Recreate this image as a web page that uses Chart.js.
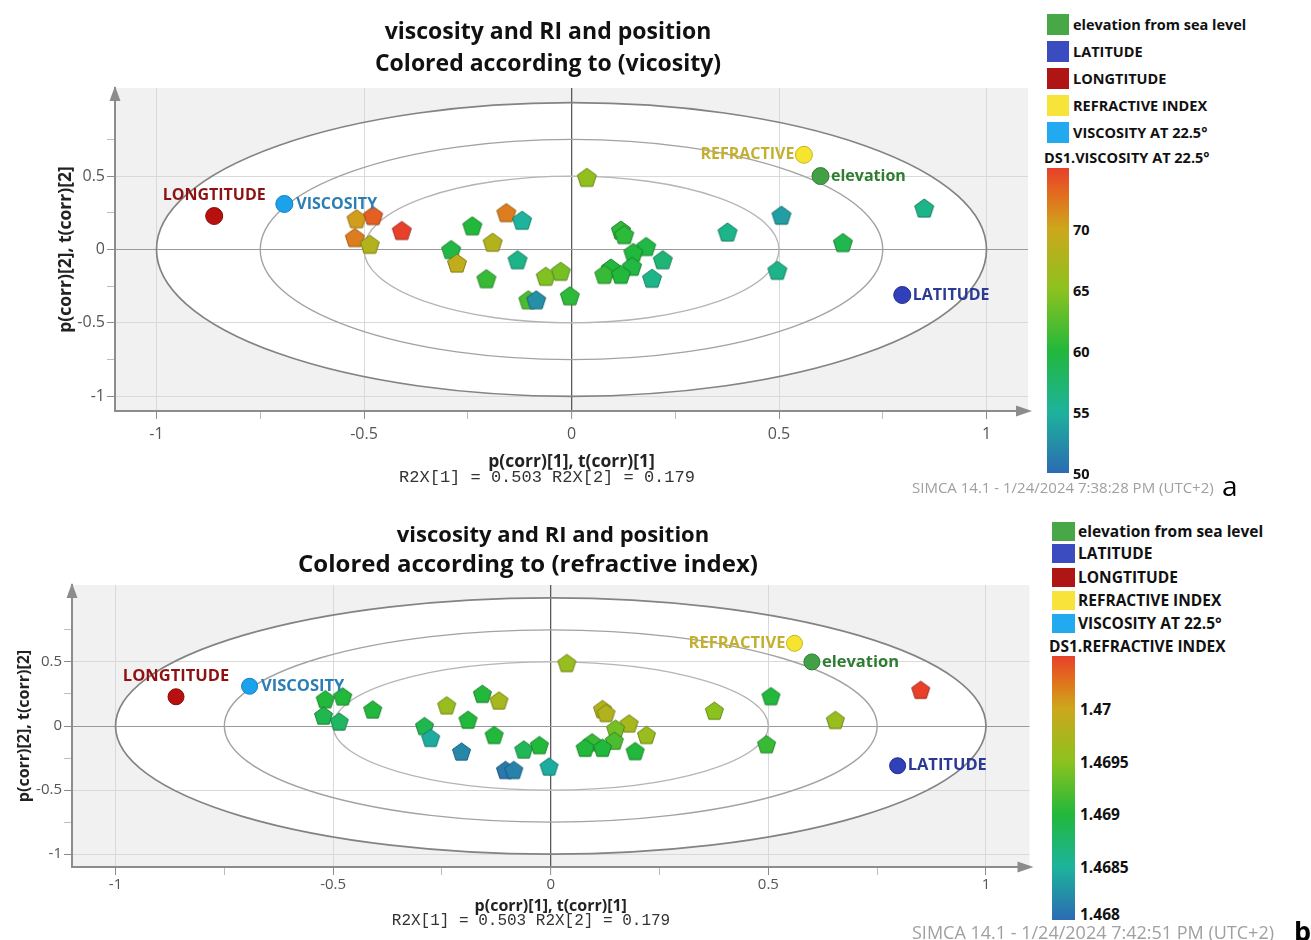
<!DOCTYPE html>
<html><head><meta charset="utf-8">
<script src="https://cdn.jsdelivr.net/npm/chart.js@4.4.1/dist/chart.umd.min.js"></script>
<style>
html,body{margin:0;padding:0;background:#fff;}
body{width:1311px;height:940px;position:relative;overflow:hidden;font-family:"Open Sans",sans-serif;}
canvas{position:absolute;left:0;}
.abs{position:absolute;white-space:nowrap;line-height:1.2;}
</style></head><body>
<canvas id="c1" style="top:0"></canvas>
<canvas id="c2" style="top:500px"></canvas>
<script>
// ---------------- DATA ----------------
const obsX = [-0.518,-0.478,-0.409,-0.522,-0.486,-0.239,-0.157,-0.119,-0.19,-0.29,-0.276,-0.13,-0.205,-0.062,-0.026,-0.104,-0.085,-0.004,0.037,0.119,0.127,0.18,0.149,0.22,0.146,0.095,0.079,0.119,0.194,0.376,0.506,0.496,0.654,0.85];
const obsY = [0.21,0.232,0.13,0.082,0.036,0.162,0.252,0.2,0.05,0.0,-0.092,-0.069,-0.198,-0.182,-0.148,-0.342,-0.342,-0.315,0.492,0.133,0.102,0.021,-0.02,-0.069,-0.114,-0.126,-0.169,-0.169,-0.195,0.12,0.234,-0.141,0.048,0.283];
const viscosity = [70.5,73.5,75,72,68,60,72,55,68,59.5,69,56,61,64.5,64,62,52.5,60.5,65.5,60.5,60.5,59.5,60,57,59.5,60,61,60,56,56,53.5,56,59,56];
const refractiveIndex = [1.4690,1.4690,1.4690,1.4689,1.4688,1.4696,1.4690,1.4697,1.4690,1.4689,1.46845,1.4690,1.4682,1.46885,1.4690,1.4681,1.46815,1.46845,1.4696,1.4698,1.46978,1.4697,1.4694,1.4696,1.4692,1.4691,1.4690,1.4690,1.4690,1.4695,1.4690,1.4691,1.4696,1.4705];
const varNames = ['LONGTITUDE','VISCOSITY','REFRACTIVE','elevation','LATITUDE'];
const varX = [-0.861,-0.692,0.56,0.60,0.797];
const varY = [0.228,0.31,0.645,0.50,-0.31];
const xMajorTicks = [-1,-0.5,0,0.5,1];
const xMinorTicks = [-0.75,-0.25,0.25,0.75];
const yMajorTicks = [-1,-0.5,0,0.5];
const yMinorTicks = [-0.75,-0.25,0.25,0.75];
const ellipseRadii = [0.5,0.75,1];
const legendNames = ['elevation from sea level','LATITUDE','LONGTITUDE','REFRACTIVE INDEX','VISCOSITY AT 22.5°'];
const viscTicks = [50,55,60,65,70];
const viscRange = [50,75];
const riTicks = [1.468,1.4685,1.469,1.4695,1.47];
const riTickLabels = ['1.468','1.4685','1.469','1.4695','1.47'];
const riRange = [1.468,1.4705];

// ---------------- STYLE ----------------
const rampStops = [[0,'#2c6bb2'],[0.2,'#1db39c'],[0.4,'#22b83c'],[0.6,'#8cc21e'],[0.8,'#cca81c'],[0.9,'#e0741e'],[1,'#e8402a']];
const varFill = ['#b80f0f','#1aa3ec','#f5e52e','#44a044','#3040b8'];
const varBorder = ['#8a0a0a','#1280c0','#c8b420','#2e7d32','#202c90'];
const varText = ['#8e1212','#2a7db5','#c4b030','#2e7d32','#2b3a95'];
const varPlace = ['above','right','left','right','right'];
const legendColors = ['#48a848','#3b4cc0','#b01515','#f7e33a','#22aaf0'];
const ellipseStyles = [{c:'#b4b4b4',w:1.3},{c:'#a2a2a2',w:1.4},{c:'#838383',w:1.7}];

Chart.defaults.font.family = '"Open Sans", sans-serif';

function hexToRgb(h){h=h.replace('#','');return [0,2,4].map(i=>parseInt(h.substr(i,2),16));}
function rampColor(t){
  t=Math.max(0,Math.min(1,t));
  for(let i=1;i<rampStops.length;i++){
    if(t<=rampStops[i][0]){
      const [t0,c0]=rampStops[i-1],[t1,c1]=rampStops[i];
      const f=(t-t0)/(t1-t0), a=hexToRgb(c0), b=hexToRgb(c1);
      return a.map((v,k)=>Math.round(v+(b[k]-v)*f));
    }
  }
  return hexToRgb(rampStops[rampStops.length-1][1]);
}
function pentagon(rgb, r){
  const s=Math.ceil(2*r+4), c=document.createElement('canvas'); c.width=s; c.height=s;
  const g=c.getContext('2d'), cx=s/2, cy=s/2+r*0.1;
  g.beginPath();
  for(let i=0;i<5;i++){const a=-Math.PI/2+i*2*Math.PI/5, px=cx+r*Math.cos(a), py=cy+r*Math.sin(a); i?g.lineTo(px,py):g.moveTo(px,py);}
  g.closePath(); g.fillStyle=`rgb(${rgb.join(',')})`; g.fill();
  g.lineWidth=1; g.strokeStyle=`rgb(${rgb.map(v=>Math.round(v*0.7)).join(',')})`; g.stroke();
  return c;
}

function makePanel(id, P, colorValues, range){
  const canvas=document.getElementById(id); canvas.width=P.W; canvas.height=P.H;
  const imgs = colorValues.map(v=>pentagon(rampColor((v-range[0])/(range[1]-range[0])), P.pentR));
  const xAll=[...xMajorTicks,...xMinorTicks].sort((a,b)=>a-b);
  const yAll=[...yMajorTicks,...yMinorTicks].sort((a,b)=>a-b);
  const plugin = {
    id:'panel'+id,
    beforeDraw(chart){
      const {ctx, chartArea:a, scales:{x,y}} = chart;
      ctx.save();
      ctx.fillStyle='#f1f1f1'; ctx.fillRect(a.left,a.top,a.right-a.left,a.bottom-a.top);
      const cx=x.getPixelForValue(0), cy=y.getPixelForValue(0), R=Math.max(...ellipseRadii);
      ctx.beginPath(); ctx.ellipse(cx,cy,Math.abs(x.getPixelForValue(R)-cx),Math.abs(y.getPixelForValue(R)-cy),0,0,2*Math.PI);
      ctx.fillStyle='#fff'; ctx.fill();
      ctx.restore();
    },
    beforeDatasetsDraw(chart){
      const {ctx, scales:{x,y}} = chart;
      const cx=x.getPixelForValue(0), cy=y.getPixelForValue(0);
      ctx.save();
      ellipseRadii.forEach((r,i)=>{
        ctx.beginPath(); ctx.ellipse(cx,cy,Math.abs(x.getPixelForValue(r)-cx),Math.abs(y.getPixelForValue(r)-cy),0,0,2*Math.PI);
        ctx.strokeStyle=ellipseStyles[i].c; ctx.lineWidth=ellipseStyles[i].w; ctx.stroke();
      });
      ctx.restore();
    },
    afterDatasetsDraw(chart){
      const {ctx}=chart, meta=chart.getDatasetMeta(1);
      ctx.save();
      ctx.font=`bold ${P.labelFs}px "Open Sans"`; ctx.textBaseline='middle';
      meta.data.forEach((pt,i)=>{
        ctx.fillStyle=varText[i];
        const r=P.circR;
        if(varPlace[i]==='above'){ctx.textAlign='center'; ctx.fillText(varNames[i], pt.x, pt.y-(r+P.labelFs*0.78));}
        else if(varPlace[i]==='left'){ctx.textAlign='right'; ctx.fillText(varNames[i], pt.x-r-1, pt.y);}
        else {ctx.textAlign='left'; ctx.fillText(varNames[i], pt.x+r+(i===1?3.5:2), pt.y);}
      });
      ctx.restore();
    },
    afterDraw(chart){
      const {ctx, chartArea:a}=chart;
      ctx.save(); ctx.fillStyle='#8c8c8c';
      ctx.beginPath(); ctx.moveTo(a.left,a.top-2); ctx.lineTo(a.left-5.5,a.top+13); ctx.lineTo(a.left+5.5,a.top+13); ctx.closePath(); ctx.fill();
      ctx.beginPath(); ctx.moveTo(a.right+4,a.bottom); ctx.lineTo(a.right-12,a.bottom-5.5); ctx.lineTo(a.right-12,a.bottom+5.5); ctx.closePath(); ctx.fill();
      ctx.restore();
    }
  };
  const tickColor=(majors)=>c=>{const v=c.tick?c.tick.value:null; return majors.includes(v)?'#8c8c8c':'#bdbdbd';};
  return new Chart(canvas,{
    type:'scatter',
    data:{datasets:[
      {label:'observations', data:obsX.map((x,i)=>({x,y:obsY[i]})), pointStyle:c=>imgs[c.dataIndex], pointRadius:P.pentR},
      {label:'variables', data:varX.map((x,i)=>({x,y:varY[i]})), pointStyle:'circle', pointRadius:P.circR, backgroundColor:varFill, borderColor:varBorder, borderWidth:1}
    ]},
    options:{
      responsive:false, animation:false, devicePixelRatio:1, events:[],
      layout:{padding:{left:0,top:P.padTop,right:P.padRight,bottom:0}},
      plugins:{legend:{display:false},tooltip:{enabled:false},title:{display:false}},
      scales:{
        x:{type:'linear',min:-1.1,max:1.1,
          afterBuildTicks:s=>{s.ticks=xAll.map(v=>({value:v}));},
          afterFit:s=>{s.height=P.xH;},
          ticks:{autoSkip:false,maxRotation:0,padding:P.xTickPad,color:'#555',font:{size:P.tickFs},callback:v=>xMajorTicks.includes(v)?String(v):''},
          grid:{color:c=>{const v=c.tick?c.tick.value:null; if(v===0) return '#5a5a5a'; return xMajorTicks.includes(v)?'#d9d9d9':'rgba(0,0,0,0)';},lineWidth:c=>c.tick&&c.tick.value===0?1.3:1,tickColor:tickColor(xMajorTicks),tickWidth:1,tickLength:8},
          border:{color:'#8c8c8c',width:2},
          title:{display:true,text:'p(corr)[1], t(corr)[1]',color:'#222',font:{size:P.axisFs,weight:'bold'},padding:{top:0,bottom:P.xTitlePad}}
        },
        y:{type:'linear',min:-1.1,max:1.1,
          afterBuildTicks:s=>{s.ticks=yAll.map(v=>({value:v}));},
          afterFit:s=>{s.width=P.yW;},
          ticks:{autoSkip:false,padding:P.yTickPad,color:'#555',font:{size:P.tickFs},callback:v=>yMajorTicks.includes(v)?String(v):''},
          grid:{color:c=>{const v=c.tick?c.tick.value:null; if(v===0) return '#9a9a9a'; return yMajorTicks.includes(v)?'#d9d9d9':'rgba(0,0,0,0)';},tickColor:tickColor(yMajorTicks),tickWidth:1,tickLength:8},
          border:{color:'#8c8c8c',width:2},
          title:{display:true,text:'p(corr)[2], t(corr)[2]',color:'#222',font:{size:P.axisFs,weight:'bold'},padding:{top:P.yTitlePad,bottom:0}}
        }
      }
    },
    plugins:[plugin]
  });
}

// ---------------- HTML overlay helpers ----------------
function place(text, x, y, css, align){
  const d=document.createElement('div'); d.className='abs'; d.textContent=text;
  d.style.left=x+'px'; d.style.top=y+'px';
  const tx = align==='center'?'-50%':(align==='right'?'-100%':'0');
  d.style.transform=`translate(${tx},-50%)`;
  Object.assign(d.style, css||{});
  document.body.appendChild(d); return d;
}
function box(x,y,w,h,bg){const d=document.createElement('div'); Object.assign(d.style,{position:'absolute',left:x+'px',top:y+'px',width:w+'px',height:h+'px',background:bg}); document.body.appendChild(d); return d;}

function legendBlock(L, title, ticks, tickLabels, range){
  legendNames.forEach((n,i)=>{
    box(L.sqX, L.rows[i]-L.sqH/2, L.sqW, L.sqH, legendColors[i]);
    place(n, L.textX, L.rows[i], {font:`bold ${L.fs}px "Open Sans"`, color:'#111'});
  });
  place(title, L.titleX, L.titleY, {font:`bold ${L.fs}px "Open Sans"`, color:'#111'});
  const grad=`linear-gradient(to top, ${rampStops.map(([t,c])=>`${c} ${t*100}%`).join(', ')})`;
  box(L.sqX, L.barTop, L.sqW, L.barBottom-L.barTop, grad);
  ticks.forEach((v,i)=>{
    let py = L.barBottom - (v-range[0])/(range[1]-range[0])*(L.barBottom-L.barTop);
    py = Math.min(py, L.barBottom - L.clamp);
    place(tickLabels[i], L.textX+L.tickDx, py, {font:`bold ${L.fs}px "Open Sans"`, color:'#111'});
  });
}

// ---------------- PANELS ----------------
makePanel('c1', {W:1040,H:500,padTop:88,padRight:12,yW:115,xH:89,tickFs:16,xTickPad:6,yTickPad:2,axisFs:17.5,yTitlePad:56,xTitlePad:27,pentR:10,circR:8.5,labelFs:16}, viscosity, viscRange);
makePanel('c2', {W:1040,H:440,padTop:85,padRight:6,yW:72,xH:73,tickFs:15,xTickPad:1,yTickPad:2,axisFs:16,yTitlePad:15,xTitlePad:24,pentR:9.5,circR:8,labelFs:16.5}, refractiveIndex, riRange);

// titles
place('viscosity and RI and position', 548, 30, {font:'bold 23px "Open Sans"', color:'#111'}, 'center');
place('Colored according to (vicosity)', 548, 62, {font:'bold 23px "Open Sans"', color:'#111'}, 'center');
place('viscosity and RI and position', 553, 533, {font:'bold 22px "Open Sans"', color:'#111'}, 'center');
place('Colored according to (refractive index)', 528, 562, {font:'bold 24px "Open Sans"', color:'#111'}, 'center');

// R2X lines
place('R2X[1] = 0.503 R2X[2] = 0.179', 547, 477, {font:'17px "Liberation Mono", monospace', color:'#333'}, 'center');
place('R2X[1] = 0.503 R2X[2] = 0.179', 531, 921, {font:'16px "Liberation Mono", monospace', color:'#333'}, 'center');

// legends
legendBlock({sqX:1047,sqW:22,sqH:21,textX:1073,rows:[24,51,78,105,132],fs:14.5,titleX:1044,titleY:157,barTop:168,barBottom:473,tickDx:0,clamp:0},
  'DS1.VISCOSITY AT 22.5°', viscTicks, viscTicks.map(String), viscRange);
legendBlock({sqX:1052,sqW:23,sqH:19,textX:1078,rows:[531,553,577,600,623],fs:15.5,titleX:1049,titleY:646,barTop:656,barBottom:920,tickDx:2,clamp:6},
  'DS1.REFRACTIVE INDEX', riTicks, riTickLabels, riRange);

// footers
place('SIMCA 14.1 - 1/24/2024 7:38:28 PM (UTC+2)', 912, 487, {font:'15px "Open Sans"', color:'#a0a0a0'});
place('a', 1222, 485, {font:'28px "Open Sans"', color:'#000'});
place('SIMCA 14.1 - 1/24/2024 7:42:51 PM (UTC+2)', 912, 932, {font:'18px "Open Sans"', color:'#a0a0a0'});
place('b', 1294, 930, {font:'bold 27px "Open Sans"', color:'#000'});
</script>
</body></html>
